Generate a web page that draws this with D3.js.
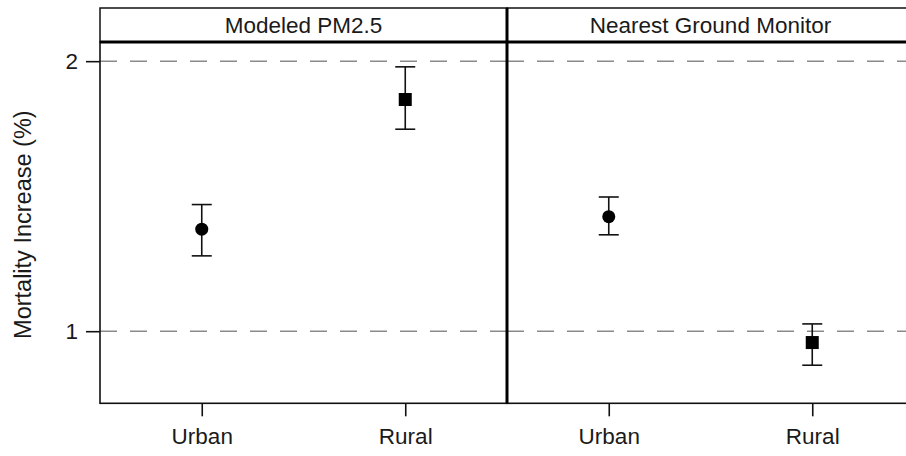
<!DOCTYPE html>
<html>
<head>
<meta charset="utf-8">
<script src="https://cdn.jsdelivr.net/npm/d3@7"></script>
<style>
  html, body { margin: 0; padding: 0; background: #fff; }
  svg { display: block; font-family: "Liberation Sans", Arial, Helvetica, sans-serif; }
</style>
</head>
<body>
<svg id="chart" width="906" height="456"></svg>
<script>
// ---- data ----
const panels = ["Modeled PM2.5", "Nearest Ground Monitor"];
const categories = ["Urban", "Rural"];
const shapes = ["circle", "square"];
const estModeled = [1.378, 1.858];
const lowModeled = [1.279, 1.748];
const highModeled = [1.469, 1.979];
const estNearest = [1.424, 0.958];
const lowNearest = [1.357, 0.874];
const highNearest = [1.497, 1.027];
const yTicks = [1, 2];
const refLines = [1, 2];
const yLabel = "Mortality Increase (%)";

const est = [estModeled, estNearest];
const low = [lowModeled, lowNearest];
const high = [highModeled, highNearest];

// ---- layout ----
const svg = d3.select("#chart");
const left = 100, panelW = 407;
const stripTop = 8, plotTop = 42, plotBottom = 403.3;
const fontSize = 22.5;

const y = d3.scaleLinear().domain([0.733, 2.071]).range([plotBottom, plotTop]);

panels.forEach((p, i) => {
  const x0 = left + i * panelW;
  const x = d3.scalePoint().domain(categories).range([x0, x0 + panelW]).padding(0.5);
  const g = svg.append("g");

  // reference dashed lines
  g.selectAll("line.ref").data(refLines).join("line")
    .attr("x1", x0).attr("x2", x0 + panelW)
    .attr("y1", d => y(d)).attr("y2", d => y(d))
    .attr("stroke", "#8a8a8a").attr("stroke-width", 1.5)
    .attr("stroke-dasharray", "17,13");

  // error bars
  categories.forEach((c, j) => {
    const cx = x(c);
    g.append("line").attr("x1", cx).attr("x2", cx)
      .attr("y1", y(low[i][j])).attr("y2", y(high[i][j]))
      .attr("stroke", "#111").attr("stroke-width", 1.6);
    [low[i][j], high[i][j]].forEach(v => {
      g.append("line").attr("x1", cx - 10).attr("x2", cx + 10)
        .attr("y1", y(v)).attr("y2", y(v))
        .attr("stroke", "#111").attr("stroke-width", 1.6);
    });
    if (shapes[j] === "circle") {
      g.append("circle").attr("cx", cx).attr("cy", y(est[i][j])).attr("r", 6.5).attr("fill", "#000");
    } else {
      g.append("rect").attr("x", cx - 6.5).attr("y", y(est[i][j]) - 6.5)
        .attr("width", 13).attr("height", 13).attr("fill", "#000");
    }
  });

  // x axis
  const xa = g.append("g").attr("transform", `translate(0,${plotBottom})`)
    .call(d3.axisBottom(x).tickSize(13).tickPadding(12));
  xa.select(".domain").remove();
  xa.selectAll(".tick line").attr("stroke", "#111").attr("stroke-width", 1.6);
  xa.selectAll(".tick text").attr("font-size", fontSize).attr("fill", "#1a1a1a")
    .attr("font-family", "Liberation Sans, Arial, sans-serif");

  // strip
  g.append("rect").attr("x", x0).attr("y", stripTop).attr("width", panelW).attr("height", plotTop - stripTop)
    .attr("fill", "#fff").attr("stroke", "#111").attr("stroke-width", 1.5);
  g.append("text").attr("x", x0 + panelW / 2).attr("y", 33)
    .attr("text-anchor", "middle").attr("font-size", fontSize).attr("fill", "#1a1a1a").text(p);

  // panel border
  g.append("rect").attr("x", x0).attr("y", plotTop).attr("width", panelW).attr("height", plotBottom - plotTop)
    .attr("fill", "none").attr("stroke", "#111").attr("stroke-width", 1.6);
});

// thick separators
svg.append("line").attr("x1", left).attr("x2", left + 2 * panelW).attr("y1", plotTop).attr("y2", plotTop)
  .attr("stroke", "#000").attr("stroke-width", 3);
svg.append("line").attr("x1", left + panelW).attr("x2", left + panelW).attr("y1", stripTop).attr("y2", plotBottom)
  .attr("stroke", "#000").attr("stroke-width", 3);

// y axis
const ya = svg.append("g").attr("transform", `translate(${left},0)`)
  .call(d3.axisLeft(y).tickValues(yTicks).tickFormat(d3.format("d")).tickSize(14).tickPadding(8));
ya.select(".domain").remove();
ya.selectAll(".tick line").attr("stroke", "#111").attr("stroke-width", 1.6);
ya.selectAll(".tick text").attr("font-size", fontSize).attr("fill", "#1a1a1a")
  .attr("font-family", "Liberation Sans, Arial, sans-serif");

// y label
svg.append("text").attr("transform", `translate(31,${(plotTop + plotBottom) / 2 + 2}) rotate(-90)`)
  .attr("text-anchor", "middle").attr("font-size", 23.5).attr("fill", "#1a1a1a").text(yLabel);
</script>
</body>
</html>
